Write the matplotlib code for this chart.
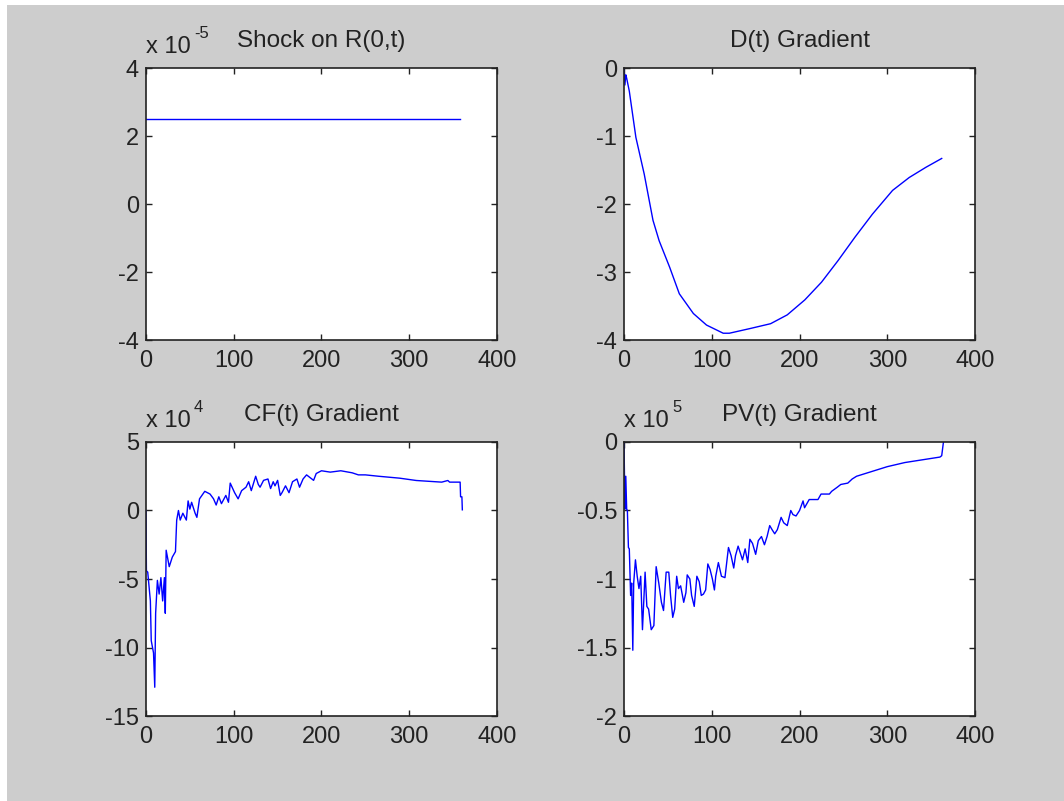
import matplotlib
matplotlib.use("Agg")
import matplotlib.pyplot as plt
from matplotlib.patches import Rectangle

plt.rcParams['font.family'] = ['Liberation Sans', 'DejaVu Sans']

# Shock on R(0,t)
shock_t = [0, 358]
shock_v = [2.5e-5, 2.5e-5]

# D(t) Gradient
d_t = [0, 1, 2, 3, 6, 13.5, 23, 33, 40, 52, 63, 79, 94, 113, 120, 144, 167, 186,
       206, 225, 244, 263, 283, 306, 325, 344, 362]
d_v = [0, -0.25, -0.1, -0.15, -0.34, -1.02, -1.56, -2.24, -2.54, -2.93, -3.32,
       -3.61, -3.78, -3.9, -3.9, -3.83, -3.76, -3.63, -3.41, -3.15, -2.83, -2.49,
       -2.15, -1.80, -1.61, -1.46, -1.33]

# CF(t) Gradient (x 1e4)
cf_t = [0, 0.5, 2, 5, 6, 8.6, 10, 11, 13, 15, 17, 19, 21, 22, 23, 26.5, 30, 33.6,
        35, 37, 39, 42, 46, 48, 50, 52, 54, 56, 58, 61, 67, 73, 77, 80, 83, 86, 91,
        94, 96, 101, 105, 109, 114, 117, 120, 125, 128, 130, 134, 139, 142, 145,
        147, 150, 153, 155, 159, 163, 167, 172, 175, 179, 183, 187, 191, 194, 200,
        210, 222, 235, 242, 250, 265, 289, 308, 337, 344, 346, 358, 358.5, 360, 360.5]
cf_v = [0, -4.4, -4.5, -6.6, -9.5, -10.4, -12.9, -7.5, -5.1, -6.1, -4.9, -6.6, -4.9,
        -7.5, -2.9, -4.1, -3.4, -3.0, -0.7, 0, -0.7, -0.2, -0.7, 0.7, 0.1, 0.6, 0.2,
        -0.2, -0.5, 0.85, 1.4, 1.2, 0.85, 0.4, 1.0, 0.5, 1.1, 0.6, 2.0, 1.3, 0.85,
        1.45, 1.7, 2.1, 1.45, 2.5, 1.9, 1.7, 2.2, 2.3, 1.6, 2.1, 1.8, 2.2, 1.1, 1.3,
        1.8, 1.3, 2.1, 2.3, 1.7, 2.3, 2.6, 2.4, 2.2, 2.7, 2.9, 2.8, 2.9, 2.75, 2.6,
        2.6, 2.5, 2.36, 2.19, 2.07, 2.19, 2.07, 2.07, 1.0, 1.0, 0.05]
cf_v = [v * 1e4 for v in cf_v]

# PV(t) Gradient (x 1e5)
pv_t = [0, 1, 2, 3, 3.8, 5, 6, 7.5, 8.7, 10, 11, 13, 15, 17, 19, 21, 24, 26, 28, 31,
        34, 36.6, 39.6, 42.6, 45, 48, 51, 53, 55.5, 57.7, 60, 62, 64.5, 68, 70.5,
        72, 75, 77, 80, 83, 85.7, 88, 90.5, 93, 95.5, 98, 100.7, 103, 104.5, 107.5,
        111, 115, 119, 122, 125, 127, 130, 132, 135, 138, 141, 143.4, 146.4, 150,
        153, 156.6, 160, 163, 166, 168.7, 171.7, 174.7, 179, 182, 186, 190, 192.5,
        196, 200, 204, 205.7, 211, 221, 224.5, 234, 236.6, 243, 247, 255, 260, 265,
        280, 300, 320, 340, 360, 362, 364]
pv_v = [0, -0.49, -0.25, -0.49, -0.5, -0.77, -0.78, -1.12, -1.03, -1.52, -1.03,
        -0.86, -0.98, -1.07, -0.98, -1.37, -0.95, -1.2, -1.22, -1.37, -1.34, -0.91,
        -1.03, -1.17, -1.23, -0.95, -0.95, -1.12, -1.28, -1.22, -0.98, -1.07, -1.05,
        -1.17, -1.10, -0.97, -1.0, -1.12, -1.2, -0.98, -1.02, -1.12, -1.11, -1.08,
        -0.89, -0.93, -1.0, -1.08, -0.98, -0.88, -0.98, -0.99, -0.77, -0.83, -0.92,
        -0.83, -0.76, -0.80, -0.86, -0.78, -0.88, -0.71, -0.74, -0.82, -0.72, -0.69,
        -0.75, -0.69, -0.61, -0.64, -0.67, -0.64, -0.55, -0.59, -0.61, -0.5, -0.53,
        -0.54, -0.5, -0.43, -0.48, -0.42, -0.42, -0.38, -0.38, -0.36, -0.33, -0.31,
        -0.30, -0.27, -0.25, -0.22, -0.18, -0.15, -0.13, -0.11, -0.1, 0.0]
pv_v = [v * 1e5 for v in pv_v]

panels = [
    ("Shock on R(0,t)", shock_t, shock_v, -5, (-4, 4), [-4, -2, 0, 2, 4]),
    ("D(t) Gradient", d_t, d_v, 0, (-4, 0), [-4, -3, -2, -1, 0]),
    ("CF(t) Gradient", cf_t, cf_v, 4, (-15, 5), [-15, -10, -5, 0, 5]),
    ("PV(t) Gradient", pv_t, pv_v, 5, (-2, 0), [-2, -1.5, -1, -0.5, 0]),
]
positions = [
    [0.1372, 0.5755, 0.3299, 0.3396],
    [0.5865, 0.5755, 0.3299, 0.3396],
    [0.1372, 0.1061, 0.3299, 0.3421],
    [0.5865, 0.1061, 0.3299, 0.3421],
]

fig = plt.figure(figsize=(10.64, 8.01), dpi=100, facecolor='white')
fig.patches.append(Rectangle((7 / 1064, 0), 1, 1 - 5 / 801, transform=fig.transFigure,
                             facecolor='#cdcdcd', edgecolor='none', zorder=-10))

ink = '#222222'
for (title, t, v, exp, ylim, yticks), pos in zip(panels, positions):
    ax = fig.add_axes(pos)
    scale = 10.0 ** exp
    ax.plot(t, [y / scale for y in v], color='#0000ff', lw=1.0)
    ax.set_xlim(0, 400)
    ax.set_ylim(*ylim)
    ax.set_xticks([0, 100, 200, 300, 400])
    ax.set_yticks(yticks)
    ax.set_yticklabels(['%g' % y for y in yticks])
    ax.tick_params(direction='in', length=4, width=1, top=True, right=True,
                   labelsize=17, colors=ink)
    ax.tick_params(axis='x', pad=7)
    ax.tick_params(axis='y', pad=5)
    for s in ax.spines.values():
        s.set_color(ink)
        s.set_linewidth(1.2)
    ax.text(0.5, 1.077, title, transform=ax.transAxes, ha='center', va='baseline',
            fontsize=17.5, color=ink)
    if exp != 0:
        ax.text(0.0, 1.055, 'x 10', transform=ax.transAxes, ha='left', va='baseline',
                fontsize=17, color=ink)
        ax.text(0.137, 1.11, str(exp), transform=ax.transAxes, ha='left',
                va='baseline', fontsize=12, color=ink)

fig.savefig('out.png', dpi=100, facecolor=fig.get_facecolor())
